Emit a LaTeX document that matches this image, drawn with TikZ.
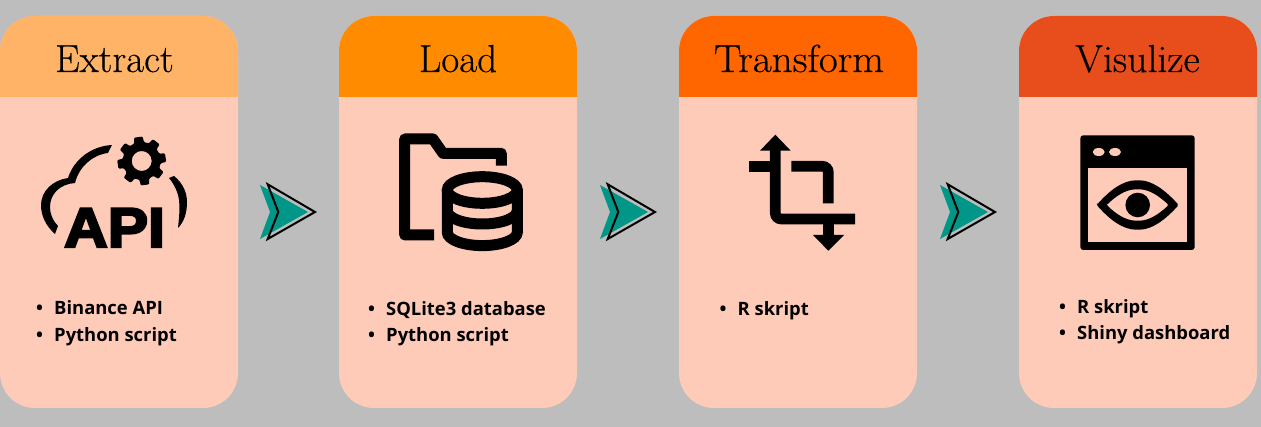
\documentclass[tikz,border=0pt]{standalone}
\usepackage{fontspec}
\setmainfont{Latin Modern Roman}
\newfontfamily\titlefont{Latin Modern Roman}[FakeBold=0.4]
\newfontfamily\listfont{Open Sans}
\newfontfamily\apifont{Liberation Sans Bold}[FakeBold=4]
\definecolor{bgc}{HTML}{BDBDBD}
\definecolor{bodyc}{HTML}{FFCBB9}
\definecolor{heada}{HTML}{FFB366}
\definecolor{headb}{HTML}{FF8C00}
\definecolor{headc}{HTML}{FF6600}
\definecolor{headd}{HTML}{E84D1C}
\definecolor{tealc}{HTML}{009688}
\tikzset{
  cardbody/.style={fill=bodyc,rounded corners=35pt},
  titletext/.style={anchor=base,inner sep=0pt,font=\titlefont\fontsize{39}{39}\selectfont,text=black},
  listitem/.style={anchor=base west,inner sep=0pt,font=\listfont\bfseries\fontsize{18.4}{20}\selectfont},
  iconline/.style={draw=black,line width=11pt,line join=round,line cap=butt},
  dbline/.style={draw=black,line width=11pt},
  chevfill/.style={fill=tealc},
  chevline/.style={draw=black,line width=2pt,line join=miter},
}
\newcommand{\itemrow}[1]{\makebox[18pt][l]{\textbullet}#1}
\newcommand{\headshape}[2]{%
  \fill[#2] (#1,97) [rounded corners=35pt] -- (#1,16) -- (#1+238,16) [sharp corners] -- (#1+238,97) -- cycle;
}
\newcommand{\chevron}[1]{%
  \fill[chevfill] (#1+260,185) -- (#1+308,212) -- (#1+260,239) -- (#1+270,212) -- cycle;
  \draw[chevline] (#1+267.7,184.3) -- (#1+315,212) -- (#1+267.7,239) -- (#1+278.3,212) -- cycle;
}
\begin{document}
\begin{tikzpicture}[x=1pt,y=-1pt]
\useasboundingbox (0,0) rectangle (1261,427);
\fill[bgc] (0,0) rectangle (1261,427);
% cards
\fill[cardbody] (0,16) rectangle (238,408);
\fill[cardbody] (339,16) rectangle (577,408);
\fill[cardbody] (679,16) rectangle (917,408);
\fill[cardbody] (1019,16) rectangle (1257,408);
\headshape{0}{heada}
\headshape{339}{headb}
\headshape{679}{headc}
\headshape{1019}{headd}
% titles
\node[titletext] (t1) at (114.5,72) {Extract};
\node[titletext] (t2) at (458,72) {Load};
\node[titletext,xscale=1.055] (t3) at (799,72) {Transform};
\node[titletext,xscale=1.02] (t4) at (1137.5,72) {Visulize};
% chevrons
\chevron{0}
\chevron{340}
\chevron{680}
% API icon
\fill (55,234) .. controls (46,226) and (41,216) .. (41,205)
  .. controls (41,191) and (53,180) .. (68,178)
  .. controls (74,159) and (92,146) .. (112,145)
  -- (108,153) .. controls (92,155) and (79,167) .. (75,183)
  .. controls (60,184) and (50,194) .. (50,207)
  .. controls (50,214) and (53,221) .. (58,226) -- cycle;
\fill (169,178) -- (174,176) .. controls (184,184) and (187,194) .. (187,202)
  .. controls (187,213) and (184,222) .. (178,228)
  .. controls (179,218) and (180,210) .. (179,200)
  .. controls (178,192) and (174,184) .. (169,178) -- cycle;
\begin{scope}[shift={(141.7,161)}]
  \fill[even odd rule,rounded corners=1pt]
    (82-15:19) -- (82-10:24.5) -- (82+10:24.5) -- (82+15:19)
    foreach \a in {45,90,135,180,225,270,315} {
      -- (82+\a-15:19) -- (82+\a-10:24.5) -- (82+\a+10:24.5) -- (82+\a+15:19)
    } -- cycle
    (0,0) circle[radius=10];
\end{scope}
\node[anchor=base,inner sep=0pt,xscale=1.08,font=\apifont\fontsize{56}{56}\selectfont] (api) at (114.5,247) {API};
% Load icon
\path[iconline] (434,235) -- (404.7,235) -- (404.7,139) -- (433,139) -- (443,153.3) -- (501.3,153.3) -- (501.3,165.7);
\path[dbline] (482.3,190) ellipse[x radius=35,y radius=13.3];
\path[dbline] (447.3,190) -- (447.3,232.3) arc[start angle=180,end angle=0,x radius=35,y radius=13.3] -- (517.3,190);
\path[dbline] (447.3,210.7) arc[start angle=180,end angle=0,x radius=35,y radius=13.3];
% Transform icon
\draw[line width=10.7pt,rounded corners=6pt] (775.3,150) -- (775.3,219) -- (855,219);
\draw[line width=10.7pt] (749,166.3) -- (770.7,166.3);
\fill (775.3,134.7) -- (790.7,150.7) -- (760,150.7) -- cycle;
\draw[line width=10.7pt,rounded corners=6pt] (791.3,166.3) -- (828.3,166.3) -- (828.3,203.3);
\draw[line width=10.7pt] (828.3,224) -- (828.3,236);
\fill (828.3,250.7) -- (844,235) -- (813,235) -- cycle;
% Visualize icon
\fill[rounded corners=3pt] (1080.3,135.3) rectangle (1194.7,250);
\fill[bodyc] (1088.3,168.3) rectangle (1186.7,242);
\fill[bodyc] (1098.7,152) ellipse[x radius=6,y radius=4];
\fill[bodyc] (1115,152) ellipse[x radius=6,y radius=4];
\fill[even odd rule,rounded corners=1.5pt]
  (1096.7,205) .. controls (1110,190) and (1123,180.3) .. (1137.7,180.3)
  .. controls (1152,180.3) and (1165,190) .. (1178.7,205)
  .. controls (1165,220) and (1152,229.7) .. (1137.7,229.7)
  .. controls (1123,229.7) and (1110,220) .. (1096.7,205) -- cycle
  (1106.7,205) .. controls (1115,197) and (1125,189.3) .. (1137.7,189.3)
  .. controls (1150,189.3) and (1160,197) .. (1168.7,205)
  .. controls (1160,213) and (1150,220.7) .. (1137.7,220.7)
  .. controls (1125,220.7) and (1115,213) .. (1106.7,205) -- cycle;
\fill (1137.7,205) circle[radius=12.3];
% lists
\node[listitem] (a1) at (36,315) {\itemrow{Binance API}};
\node[listitem] (a2) at (36,341.5) {\itemrow{Python script}};
\node[listitem] (b1) at (368,315.5) {\itemrow{SQLite3 database}};
\node[listitem] (b2) at (368,341.5) {\itemrow{Python script}};
\node[listitem] (c1) at (719.5,315.5) {\itemrow{R skript}};
\node[listitem] (d1) at (1059,313.5) {\itemrow{R skript}};
\node[listitem] (d2) at (1059,339.5) {\itemrow{Shiny dashboard}};
\end{tikzpicture}
\end{document}
